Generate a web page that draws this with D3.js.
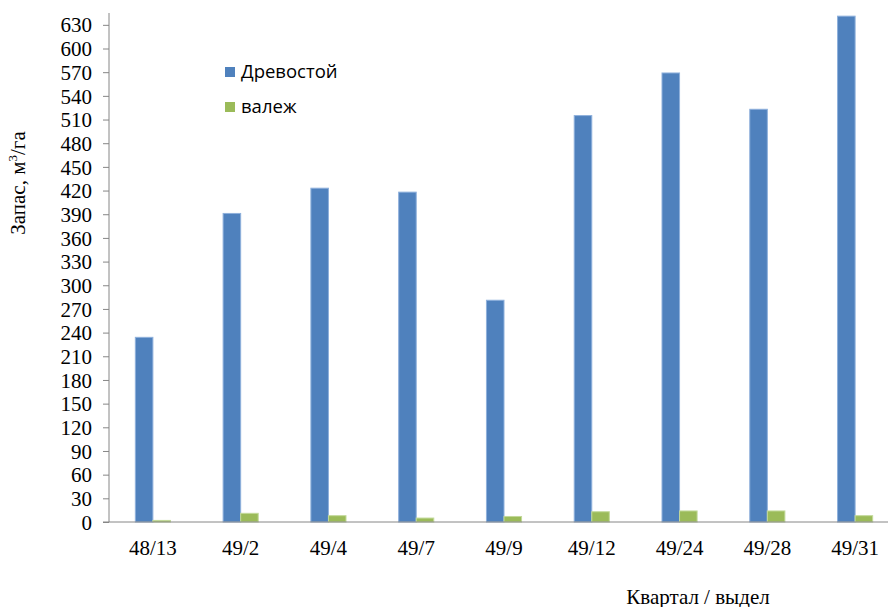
<!DOCTYPE html>
<html lang="ru">
<head>
<meta charset="UTF-8">
<title>Запас древостоя и валежа</title>
<script src="https://d3js.org/d3.v7.min.js"></script>
<style>
  body { margin: 0; background: #fff; }
  svg { display: block; }
  .tick text { font-family: "Liberation Serif", "Times New Roman", serif; font-size: 21px; fill: #000; }
  .axis path, .axis line { stroke: #868686; }
</style>
</head>
<body>
<script>
// data
const categories = ["48/13", "49/2", "49/4", "49/7", "49/9", "49/12", "49/24", "49/28", "49/31"];
const standValues = [234, 391, 423, 418, 281, 515, 569, 523, 641];
const deadwoodValues = [2, 11, 8, 5, 7, 13, 14, 14, 8];
const seriesNames = ["Древостой", "валеж"];
const yTicks = d3.range(0, 631, 30);

const colors = ["#4f81bd", "#9bbb59"];
const borders = ["#8eb0dc", "#c2d99a"];

const width = 888, height = 607;
const plot = { left: 109, right: 899, top: 13, bottom: 522 };

const svg = d3.select("body").append("svg")
    .attr("width", width)
    .attr("height", height);

const x = d3.scaleBand()
    .domain(categories)
    .range([plot.left, plot.right])
    .paddingInner(0)
    .paddingOuter(0);

const y = d3.scaleLinear()
    .domain([0, 645])
    .range([plot.bottom, plot.top]);

const barW = x.bandwidth() * 0.2;

const rows = categories.map((c, i) => ({ cat: c, vals: [standValues[i], deadwoodValues[i]] }));

const g = svg.append("g");
rows.forEach(r => {
    r.vals.forEach((v, s) => {
        const cx = x(r.cat) + x.bandwidth() / 2;
        g.append("rect")
            .attr("x", s === 0 ? cx - barW : cx)
            .attr("y", y(v))
            .attr("width", barW)
            .attr("height", y(0) - y(v))
            .attr("fill", colors[s])
            .attr("stroke", borders[s])
            .attr("stroke-width", 1);
    });
});

// y axis
const yAxis = svg.append("g")
    .attr("class", "axis")
    .attr("transform", `translate(${plot.left},0)`)
    .call(d3.axisLeft(y).tickValues(yTicks).tickSize(6).tickPadding(11).tickSizeOuter(0));
yAxis.select(".domain").attr("d", `M0,${plot.top}V${plot.bottom}`);
yAxis.selectAll(".tick text").attr("dy", "0.34em");

// x axis
const xAxis = svg.append("g")
    .attr("class", "axis")
    .attr("transform", `translate(0,${plot.bottom})`)
    .call(d3.axisBottom(x).tickSize(0).tickPadding(18).tickSizeOuter(0));
xAxis.select(".domain").attr("d", `M${plot.left - 6},0H${width}`);

// axis titles
svg.append("text")
    .attr("transform", "translate(25,183) rotate(-90)")
    .attr("text-anchor", "middle")
    .style("font-family", "Liberation Serif, serif")
    .style("font-size", "21px")
    .html('Запас, м<tspan dy="-8" font-size="13">3</tspan><tspan dy="8">/га</tspan>');

svg.append("text")
    .attr("x", 698)
    .attr("y", 604)
    .attr("text-anchor", "middle")
    .style("font-family", "Liberation Serif, serif")
    .style("font-size", "21px")
    .text("Квартал / выдел");

// legend
const legend = svg.append("g").attr("transform", "translate(225,67)");
seriesNames.forEach((name, i) => {
    const row = legend.append("g").attr("transform", `translate(0,${i * 35})`);
    row.append("rect").attr("width", 10).attr("height", 10).attr("fill", colors[i]);
    row.append("text")
        .attr("x", 16)
        .attr("y", 5)
        .attr("dy", "0.35em")
        .style("font-family", "Open Sans, sans-serif")
        .style("font-size", "18.5px")
        .text(name);
});
</script>
</body>
</html>
